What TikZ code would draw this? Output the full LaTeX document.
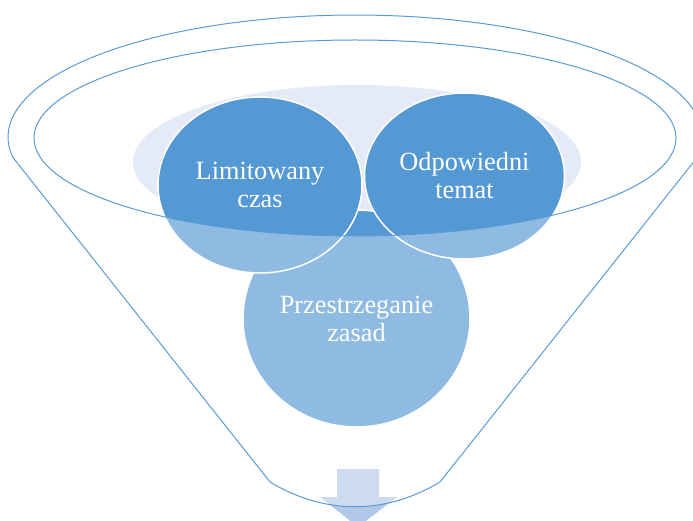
\documentclass[tikz,border=0pt]{standalone}
\usepackage{fontspec}
\setmainfont{Liberation Serif}
\usetikzlibrary{shapes.geometric}
\definecolor{acc}{RGB}{84,152,212}
\definecolor{lineblue}{RGB}{91,155,213}
\definecolor{paleblue}{RGB}{228,235,247}
\definecolor{arrowblue}{RGB}{178,200,233}
\begin{document}
\begin{tikzpicture}[x=1pt,y=1pt,
  bubble/.style={ellipse, fill=acc, draw=white, line width=1.5pt, text=white,
    align=center, inner sep=0pt, font=\fontsize{26.3}{28}\selectfont},
  rim/.style={draw=lineblue, line width=1pt},
  veil/.style={fill=white, fill opacity=0.35, even odd rule},
  downarrow/.style={fill=arrowblue}]
\useasboundingbox (0,0) rectangle (693,520);
\clip (0,0) rectangle (693,520);
% pale background ellipse
\fill[paleblue] (357,358) ellipse[x radius=224, y radius=77];
% three bubbles
\node[bubble, minimum width=227pt, minimum height=217pt] (zas) at (356.5,201.5) {Przestrzeganie\\zasad};
\node[bubble, minimum width=204pt, minimum height=176pt] (lim) at (260,335) {Limitowany\\czas};
\node[bubble, minimum width=200pt, minimum height=166pt] (odp) at (464.5,344) {Odpowiedni\\temat};
% down arrow
\fill[downarrow] (337,51) -- (379,51) -- (379,23) -- (397,23) -- (358,-7) -- (320,23) -- (337,23) -- cycle;
% funnel body veil
\fill[veil] (697.04,362.44) arc[start angle=-9.7, end angle=189.7, x radius=347, y radius=122]
  -- (270,38) .. controls (325,5) and (385,5) .. (440,38) -- cycle
  (355,382) ellipse[x radius=321, y radius=98];
% outlines
\draw[rim] (697.04,362.44) arc[start angle=-9.7, end angle=189.7, x radius=347, y radius=122]
  -- (270,38) .. controls (325,5) and (385,5) .. (440,38) -- cycle;
\draw[rim] (355,382) ellipse[x radius=321, y radius=98];
\end{tikzpicture}
\end{document}
